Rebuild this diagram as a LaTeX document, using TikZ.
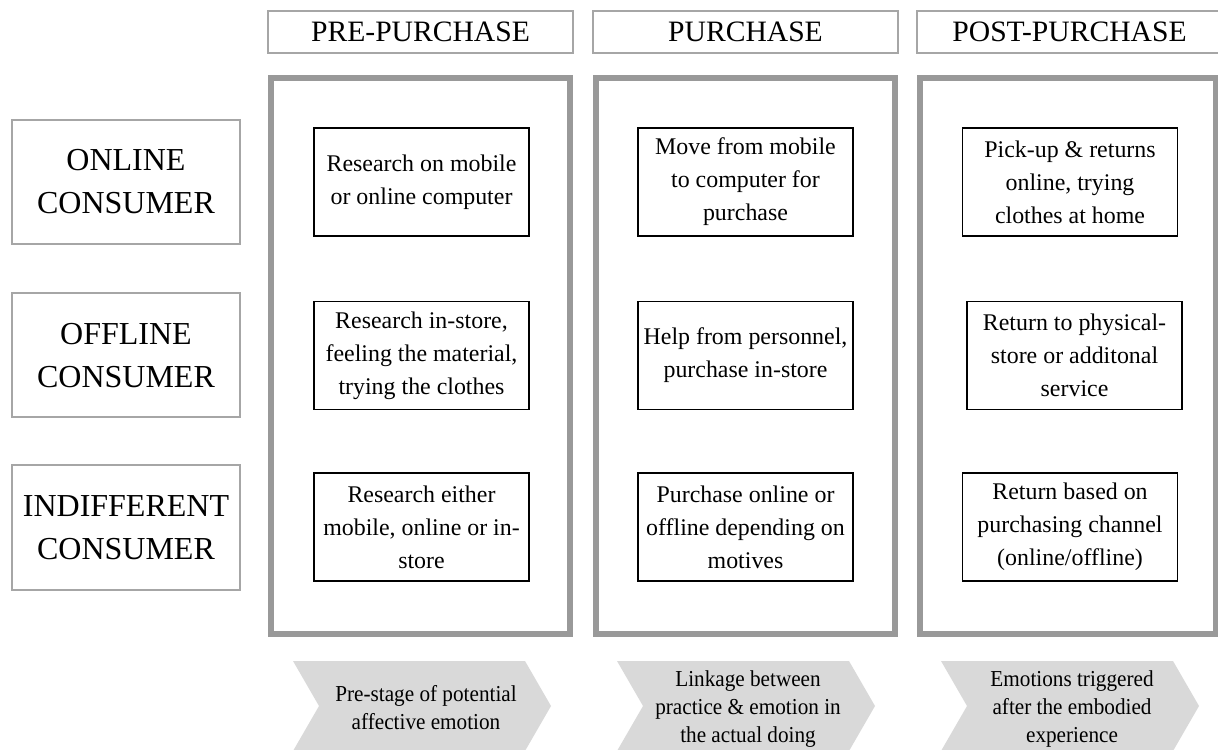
\documentclass[tikz,border=0pt]{standalone}
\usepackage{fontspec}
\setmainfont{Liberation Serif}
\newfontfamily\narrowfont[FakeStretch=0.93]{Liberation Serif}
\usetikzlibrary{calc}

% grey arrow band under each stage: (centre x, centre y)
\def\chevron(#1,#2){\fill[black!15] ({#1-129},{#2+45}) -- ({#1+103},{#2+45}) -- ({#1+129},#2) -- ({#1+103},{#2-45}) -- ({#1-129},{#2-45}) -- ({#1-103},#2) -- cycle;}

\tikzset{
	phasebox/.style={draw=black!35, line width=1pt, minimum width=152.5pt, minimum height=21pt, inner sep=0pt, font=\fontsize{14.8}{17}\selectfont},
	stagebox/.style={draw=black!40, line width=3pt},
	groupbox/.style={draw=black!35, line width=1pt, minimum width=114pt, minimum height=62pt, inner sep=0pt, align=center, font=\fontsize{16}{21.5}\selectfont},
	stepbox/.style={draw=black, line width=0.9pt, minimum width=107.5pt, minimum height=54pt, inner sep=0pt, align=center, font=\fontsize{11.95}{16.5}\selectfont},
	feeling/.style={align=center, inner sep=0pt, font=\narrowfont\fontsize{11.4}{14}\selectfont},
}

\begin{document}
\begin{tikzpicture}[x=0.5pt, y=0.5pt]
		%%%%% START %%%%%
		\useasboundingbox (0,0) rectangle (1218,749);
		\clip (0,0) rectangle (1218,749);
		
		% phase headers
		\node[phasebox] (pre) at (420.5,717) {PRE-PURCHASE};
		\node[phasebox] (buy) at (745.5,717) {PURCHASE};
		\node[phasebox] (post) at (1069.5,717) {POST-PURCHASE};
		
		% stage frames
		\draw[stagebox] (271,671) rectangle (570,115);
		\draw[stagebox] (596,671) rectangle (895,115);
		\draw[stagebox] (920,671) rectangle (1216,115);
		
		% consumer types
		\node[groupbox] (online) at (126,567) {ONLINE\\CONSUMER};
		\node[groupbox] (offline) at (126,393.5) {OFFLINE\\CONSUMER};
		\node[groupbox] (indiff) at (126,221.5) {INDIFFERENT\\CONSUMER};
		
		% pre-purchase
		\node[stepbox] (pre-on) at (421.5,567) {Research on mobile\\or online computer};
		\node[stepbox] (pre-off) at (421.5,393.5) {Research in-store,\\feeling the material,\\trying the clothes};
		\node[stepbox] (pre-ind) at (421.5,222) {Research either\\mobile, online or in-\\store};
		
		% purchase
		\node[stepbox] (buy-on) at (745.5,567) {Move from mobile\\to computer for\\purchase};
		\node[stepbox] (buy-off) at (745.5,393.5) {Help from personnel,\\purchase in-store};
		\node[stepbox] (buy-ind) at (745.5,222) {Purchase online or\\offline depending on\\motives};
		
		% post-purchase
		\node[stepbox] (post-on) at (1070,567) {Pick-up \& returns\\online, trying\\clothes at home};
		\node[stepbox] (post-off) at (1074.5,393.5) {Return to physical-\\store or additonal\\service};
		\node[stepbox] (post-ind) at (1070,222) {Return based on\\purchasing channel\\(online/offline)};
		
		% emotion bands
		\chevron(422,43)
		\chevron(746,43)
		\chevron(1070,43)
		\node[feeling] (pre-feel) at (426,41) {Pre-stage of potential\\affective emotion};
		\node[feeling] (buy-feel) at (748,40) {Linkage between\\practice \& emotion in\\the actual doing};
		\node[feeling] (post-feel) at (1072,40) {Emotions triggered\\after the embodied\\experience};
		
		%%%%% END %%%%%
\end{tikzpicture}
\end{document}
